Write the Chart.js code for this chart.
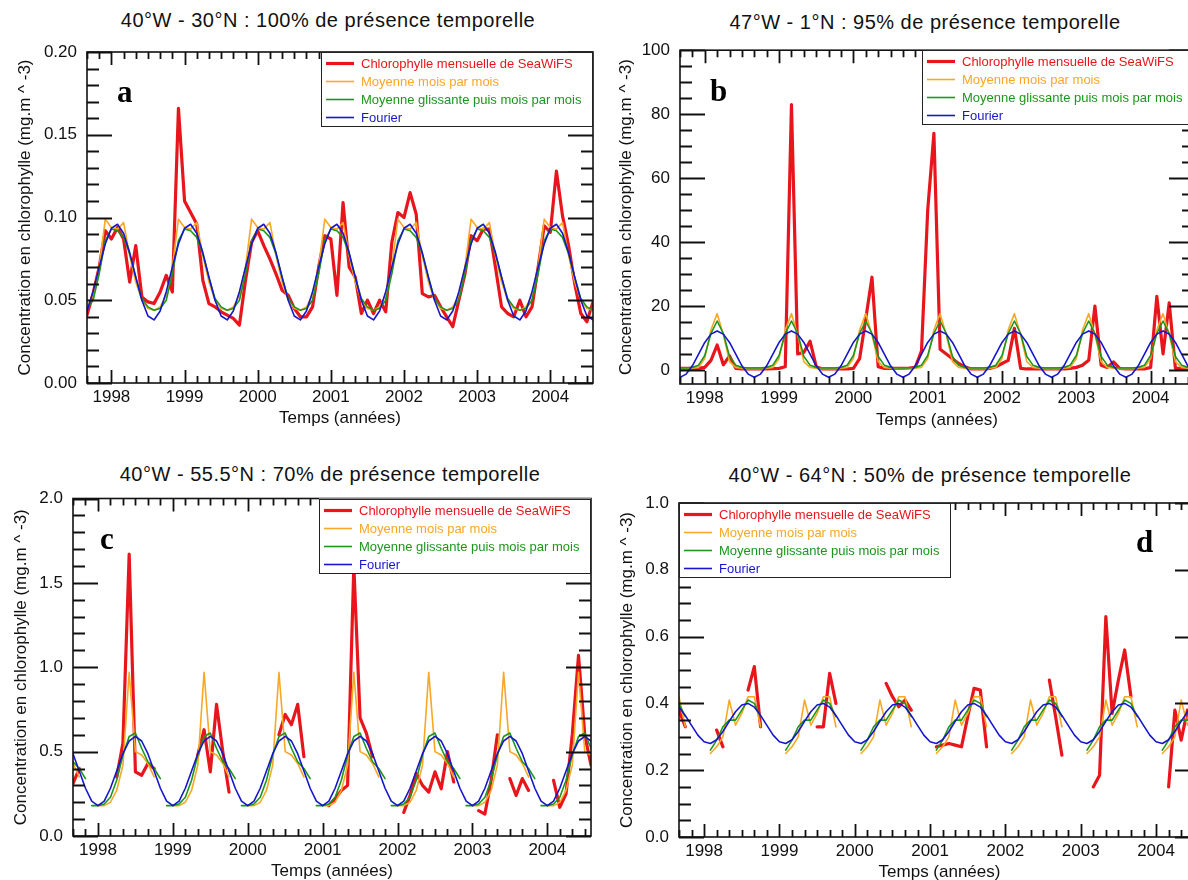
<!DOCTYPE html>
<html><head><meta charset="utf-8">
<script src="https://cdn.jsdelivr.net/npm/chart.js@4.4.1/dist/chart.umd.min.js"></script>
<style>
html,body{margin:0;padding:0;background:#fff;width:1188px;height:880px;overflow:hidden;position:relative}
.panel{position:absolute}
.title{position:absolute;font-family:"Liberation Sans",Arial,Helvetica,sans-serif;font-size:20px;letter-spacing:0.5px;white-space:nowrap;transform:translateX(-50%);color:#111;line-height:23px}
</style></head><body>
<div class="title" style="left:328px;top:9px">40°W - 30°N : 100% de présence temporelle</div>
<div class="title" style="left:925px;top:11px">47°W - 1°N : 95% de présence temporelle</div>
<div class="title" style="left:330px;top:463px">40°W - 55.5°N : 70% de présence temporelle</div>
<div class="title" style="left:930px;top:464px">40°W - 64°N : 50% de présence temporelle</div>
<div class="panel" style="left:0px;top:30px"><canvas id="ca" width="600" height="410"></canvas></div>
<div class="panel" style="left:600px;top:30px"><canvas id="cb" width="600" height="411"></canvas></div>
<div class="panel" style="left:0px;top:478px"><canvas id="cc" width="600" height="415"></canvas></div>
<div class="panel" style="left:600px;top:478px"><canvas id="cd" width="610" height="416"></canvas></div>
<script>
const FONT = '"Liberation Sans", Arial, Helvetica, sans-serif';
Chart.defaults.font.family = FONT;
Chart.defaults.color = '#111';

// ---- time axis: monthly SeaWiFS, Sept 1997 .. Aug 2004 ----
const startYear = 1997, startMonth = 9, nMonths = 84;
const monthTimes = [], monthOfYear = [];
for (let i = 0; i < nMonths; i++) { const m = startMonth - 1 + i; monthTimes.push(startYear + m / 12); monthOfYear.push(m % 12); }

const yearTicks = [1998, 1999, 2000, 2001, 2002, 2003, 2004];
const yearLabels = ['1998', '1999', '2000', '2001', '2002', '2003', '2004'];
const legendLabels = ['Chlorophylle mensuelle de SeaWiFS', 'Moyenne mois par mois', 'Moyenne glissante puis mois par mois', 'Fourier'];
const xTitle = 'Temps (années)';
const yTitle = 'Concentration en chlorophylle (mg.m ^ -3)';

// ---- panel a : 40W 30N ----
const redA = [0.041,0.054,0.070,0.092,0.087,0.094,0.087,0.061,0.083,0.052,0.049,0.048,
  0.055,0.065,0.055,0.166,0.110,0.103,0.096,0.062,0.048,0.046,0.043,0.041,
  0.039,0.035,0.062,0.085,0.092,0.083,0.075,0.066,0.056,0.053,0.045,0.040,
  0.040,0.046,0.070,0.089,0.087,0.053,0.109,0.070,0.064,0.042,0.050,0.042,
  0.050,0.043,0.085,0.103,0.100,0.115,0.102,0.054,0.052,0.053,0.046,0.040,
  0.034,0.050,0.066,0.089,0.086,0.093,0.093,0.070,0.046,0.042,0.040,0.050,
  0.040,0.046,0.070,0.095,0.091,0.128,0.101,0.083,0.060,0.042,0.037,0.049];
// monthly climatologies, Jan..Dec
const orangeA  = [0.094,0.093,0.097,0.077,0.061,0.050,0.045,0.044,0.046,0.053,0.070,0.099];
const greenA   = [0.093,0.092,0.088,0.078,0.064,0.051,0.046,0.044,0.045,0.050,0.066,0.086];
const fourierA = [0.0935,0.0959,0.0905,0.0788,0.0640,0.0500,0.0405,0.0381,0.0435,0.0552,0.0700,0.0840];
const yTicksA = [0, 0.05, 0.10, 0.15, 0.20];
const yLabelsA = ['0.00', '0.05', '0.10', '0.15', '0.20'];

// ---- panel b : 47W 1N ----
const redB = [0.5,0.5,0.5,0.5,0.8,3,7.8,1.6,4.4,0.5,0.3,0.3,
  0.3,0.3,0.3,0.4,0.5,1,83,5,5.5,9,1,0.3,
  0.3,0.3,0.3,0.3,0.5,3.5,16,29,1,0.5,0.5,0.5,
  0.5,0.6,0.8,6,50,74,6.5,5,3.5,2,1,0.3,
  0.3,0.3,0.5,1,2,3,13,0.5,0.3,0.3,0.3,0.3,
  0.3,0.3,0.3,0.5,0.8,1.5,3,20,1.5,0.8,2.5,0.5,
  0.3,0.3,0.3,0.3,0.8,23,5,21,0.5,0.5,0.5,0.5];
const orangeB  = [3.6,12.5,17.6,11,2.6,0.8,0.5,0.4,0.4,0.4,0.5,0.8];
const greenB   = [4.5,11.4,15.3,11.4,4.2,1.5,0.8,0.6,0.6,0.6,0.8,1.5];
const fourierB = [8.6,11.2,12.2,11.2,8.6,4.95,1.3,-1.3,-2.3,-1.3,1.3,4.95];
const yTicksB = [0, 20, 40, 60, 80, 100];
const yLabelsB = ['0', '20', '40', '60', '80', '100'];

// ---- panel c : 40W 55.5N ----
const redC = [0.31,0.40,null,null,null,null,null,0.35,0.55,1.67,0.38,0.36,
  0.43,0.40,null,null,null,null,null,null,0.48,0.63,0.38,0.78,
  0.50,0.26,null,null,null,null,null,null,null,0.60,0.72,0.66,
  0.78,0.47,null,null,null,0.18,0.22,0.27,0.30,1.60,0.70,0.61,
  0.47,null,null,null,null,0.14,0.24,0.37,0.30,0.26,0.38,0.28,
  0.50,0.32,null,null,null,0.15,0.13,0.33,0.60,null,0.34,0.24,
  0.34,0.27,null,null,null,0.33,0.17,0.25,0.60,1.07,0.60,0.42];
const orangeC  = [0.18,0.18,0.20,0.27,0.42,0.97,0.50,0.48,0.43,0.35,null,null];
const greenC   = [0.18,0.19,0.23,0.33,0.48,0.59,0.61,0.52,0.44,0.40,0.34,0.18];
const fourierC = [0.18,0.207,0.283,0.385,0.488,0.563,0.59,0.563,0.488,0.385,0.283,0.207];
const greenBreakC = [10]; // no line drawn between November and December
const yTicksC = [0, 0.5, 1.0, 1.5, 2.0];
const yLabelsC = ['0.0', '0.5', '1.0', '1.5', '2.0'];

// ---- panel d : 40W 64N ----
const redD = [0.38,0.33,null,null,null,null,0.32,0.27,null,null,null,0.44,
  0.51,0.33,null,null,null,null,null,null,null,null,0.33,0.33,
  0.49,0.40,null,null,null,null,null,null,null,0.46,0.42,0.39,
  0.41,0.38,null,null,null,0.27,0.275,0.28,0.275,0.27,0.36,0.445,
  0.44,0.27,null,null,null,null,null,null,null,null,null,0.47,
  0.36,0.245,null,null,null,null,0.15,0.185,0.66,0.37,0.47,0.56,
  0.42,null,null,null,null,null,0.15,0.38,0.29,0.38,null,null];
const orangeD  = [null,0.25,0.27,0.30,0.41,0.335,0.37,0.42,0.42,0.33,null,null];
const greenD   = [null,0.26,0.29,0.33,0.35,0.35,0.38,0.41,0.40,0.36,null,null];
const fourierD = [0.285,0.280,0.291,0.316,0.346,0.375,0.395,0.400,0.389,0.364,0.334,0.305];
const yTicksD = [0, 0.2, 0.4, 0.6, 0.8, 1.0];
const yLabelsD = ['0.0', '0.2', '0.4', '0.6', '0.8', '1.0'];

const COLORS = { red: 'rgb(232,22,28)', orange: 'rgb(248,168,36)', green: 'rgb(28,150,28)', blue: 'rgb(22,22,205)' };

const panels = [
  { canvas: 'ca', letter: 'a', red: redA, orange: orangeA, green: greenA, fourier: fourierA, yMin: 0, yMax: 0.2, yMinor: 0.01,
    yTicks: yTicksA, yLabels: yLabelsA, pad: { top: 22, right: 7 }, yWidth: 87, yTitlePad: 14.8, xTitlePad: 11.8, legendSide: 'right', letterPos: [30, 50] },
  { canvas: 'cb', letter: 'b', red: redB, orange: orangeB, green: greenB, fourier: fourierB, yMin: -4.4, yMax: 100, yMinor: 5,
    yTicks: yTicksB, yLabels: yLabelsB, pad: { top: 19, right: 6 }, yWidth: 80, yTitlePad: 15.8, xTitlePad: 10.5, legendSide: 'right', letterPos: [30, 51] },
  { canvas: 'cc', letter: 'c', red: redC, orange: orangeC, green: greenC, fourier: fourierC, yMin: 0, yMax: 2, yMinor: 0.1,
    yTicks: yTicksC, yLabels: yLabelsC, pad: { top: 20.5, right: 9 }, yWidth: 73, yTitlePad: 10.8, xTitlePad: 11.8, legendSide: 'right', letterPos: [27, 50], greenBreaks: greenBreakC },
  { canvas: 'cd', letter: 'd', red: redD, orange: orangeD, green: greenD, fourier: fourierD, yMin: 0, yMax: 1, yMinor: 0.05,
    yTicks: yTicksD, yLabels: yLabelsD, pad: { top: 25, right: 10 }, yWidth: 79, yTitlePad: 17.3, xTitlePad: 11, legendSide: 'left', letterPos: [457, 49] }
];

// inward ticks on all four sides, axis box, legend box and panel letter
function drawFrame(chart, p) {
  const ctx = chart.ctx;
  const a = chart.chartArea;
  const xs = chart.scales.x, ysc = chart.scales.y;
  ctx.save();
  ctx.strokeStyle = '#111';
  ctx.lineWidth = 1.8;
  const step = 1 / 6;
  const k0 = Math.ceil(xs.min / step - 1e-6), k1 = Math.floor(xs.max / step + 1e-6);
  for (let k = k0; k <= k1; k++) {
    const v = k * step;
    const px = Math.round(xs.getPixelForValue(v)) + 0.5;
    const major = Math.abs(v - Math.round(v)) < 1e-6;
    const len = major ? 13 : 7;
    ctx.beginPath();
    ctx.moveTo(px, a.bottom); ctx.lineTo(px, a.bottom - len);
    ctx.moveTo(px, a.top); ctx.lineTo(px, a.top + len);
    ctx.stroke();
  }
  const ys = p.yMinor;
  const j0 = Math.ceil(ysc.min / ys - 1e-6), j1 = Math.floor(ysc.max / ys + 1e-6);
  for (let j = j0; j <= j1; j++) {
    const v = j * ys;
    const py = Math.round(ysc.getPixelForValue(v)) + 0.5;
    const major = p.yTicks.some(t => Math.abs(t - v) < ys * 1e-3);
    const len = major ? 25 : 12;
    ctx.beginPath();
    ctx.moveTo(a.left, py); ctx.lineTo(a.left + len, py);
    ctx.moveTo(a.right, py); ctx.lineTo(a.right - len, py);
    ctx.stroke();
  }
  ctx.lineWidth = 1.6;
  ctx.strokeStyle = '#111';
  ctx.strokeRect(a.left, a.top, a.right - a.left, a.bottom - a.top);

  const lw = 272, lh = 75;
  const bx = p.legendSide === 'right' ? a.right - lw : a.left;
  const by = a.top;
  ctx.fillStyle = '#fff';
  ctx.fillRect(bx, by, lw, lh);
  ctx.strokeStyle = '#222'; ctx.lineWidth = 1;
  ctx.strokeRect(Math.round(bx) + 0.5, Math.round(by) + 0.5, lw - 1, lh - 1);
  ctx.font = '13px ' + FONT;
  ctx.textBaseline = 'middle';
  ctx.textAlign = 'left';
  chart.data.datasets.forEach((ds, k) => {
    const yy = Math.round(by + 11 + 18 * k) + 0.5;
    ctx.strokeStyle = ds.borderColor; ctx.lineWidth = ds.borderWidth;
    ctx.beginPath(); ctx.moveTo(bx + 5, yy); ctx.lineTo(bx + 33, yy); ctx.stroke();
    ctx.fillStyle = ds.borderColor;
    ctx.fillText(ds.label, bx + 40, yy + 1);
  });
  ctx.fillStyle = '#000';
  ctx.font = 'bold 31px "Liberation Serif", "Times New Roman", serif';
  ctx.textBaseline = 'alphabetic';
  ctx.fillText(p.letter, a.left + p.letterPos[0], a.top + p.letterPos[1]);
  ctx.restore();
}

function series(values) { return values.map((v, i) => ({ x: monthTimes[i], y: v })); }
function climSeries(clim) { return monthOfYear.map((m, i) => ({ x: monthTimes[i], y: clim[m] })); }

panels.forEach(p => {
  const greenDs = { label: legendLabels[2], data: climSeries(p.green), borderColor: COLORS.green, borderWidth: 1.6, order: 2 };
  if (p.greenBreaks) {
    greenDs.segment = { borderColor: c => p.greenBreaks.includes(monthOfYear[c.p0DataIndex]) ? 'rgba(0,0,0,0)' : COLORS.green };
  }
  new Chart(document.getElementById(p.canvas), {
    type: 'line',
    data: {
      datasets: [
        { label: legendLabels[0], data: series(p.red), borderColor: COLORS.red, borderWidth: 3.2, order: 4 },
        { label: legendLabels[1], data: climSeries(p.orange), borderColor: COLORS.orange, borderWidth: 1.6, order: 3 },
        greenDs,
        { label: legendLabels[3], data: climSeries(p.fourier), borderColor: COLORS.blue, borderWidth: 1.6, order: 1 }
      ]
    },
    options: {
      responsive: false, animation: false, events: [], spanGaps: false,
      elements: { point: { radius: 0 }, line: { tension: 0, borderJoinStyle: 'round', borderCapStyle: 'round' } },
      layout: { padding: { left: 0, top: p.pad.top, right: p.pad.right, bottom: 0 } },
      plugins: { legend: { display: false }, tooltip: { enabled: false }, title: { display: false } },
      scales: {
        x: {
          type: 'linear', min: monthTimes[0], max: monthTimes[nMonths - 1],
          afterBuildTicks: s => { s.ticks = yearTicks.map(v => ({ value: v })); },
          ticks: { callback: (v, i) => yearLabels[i], font: { size: 17 }, color: '#111', padding: 4, maxRotation: 0, autoSkip: false },
          grid: { display: false, drawTicks: false }, border: { display: false },
          title: { display: true, text: xTitle, font: { size: 17 }, color: '#111', padding: { top: 0, bottom: p.xTitlePad } },
          afterFit: s => { s.height = 57; }
        },
        y: {
          type: 'linear', min: p.yMin, max: p.yMax,
          afterBuildTicks: s => { s.ticks = p.yTicks.map(v => ({ value: v })); },
          ticks: { callback: (v, i) => p.yLabels[i], font: { size: 17 }, color: '#111', padding: 10, autoSkip: false },
          grid: { display: false, drawTicks: false }, border: { display: false },
          title: { display: true, text: yTitle, font: { size: 17 }, color: '#111', padding: { top: p.yTitlePad, bottom: 0 } },
          afterFit: s => { s.width = p.yWidth; }
        }
      }
    },
    plugins: [{ id: 'frame_' + p.letter, afterDraw(chart) { drawFrame(chart, p); } }]
  });
});
</script>
</body></html>
